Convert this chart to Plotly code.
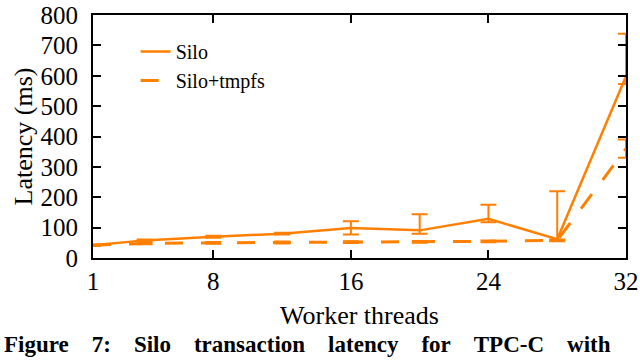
import plotly.graph_objects as go

threads = [1, 4, 8, 12, 16, 20, 24, 28, 32]

silo = [42, 58, 70, 80, 99, 91, 129, 62, 598]
silo_err_plus = [2, 3, 3, 3, 22, 53, 46, 158, 140]
silo_err_minus = [2, 3, 3, 3, 22, 11, 11, 3, 25]

tmpfs = [42, 48, 50, 51, 52, 53, 55, 58, 360]
tmpfs_err_plus = [2, 3, 3, 3, 3, 3, 3, 3, 30]
tmpfs_err_minus = [2, 3, 3, 3, 3, 3, 3, 3, 30]

x_ticks = [1, 8, 16, 24, 32]
y_ticks = [0, 100, 200, 300, 400, 500, 600, 700, 800]

orange = '#ff8000'
serif = 'Liberation Serif, Times New Roman, serif'

W, H = 640, 360
left, right, top, bottom = 93, 14, 15, 102
plot_w = W - left - right
plot_h = H - top - bottom

fig = go.Figure()
fig.add_trace(go.Scatter(
    x=threads, y=silo, name='Silo', mode='lines',
    line=dict(color=orange, width=2.5),
    error_y=dict(type='data', symmetric=False, array=silo_err_plus,
                 arrayminus=silo_err_minus, color=orange, thickness=2, width=8),
))
fig.add_trace(go.Scatter(
    x=threads, y=tmpfs, name='Silo+tmpfs', mode='lines',
    line=dict(color=orange, width=3, dash='18px,18px'),
    error_y=dict(type='data', symmetric=False, array=tmpfs_err_plus,
                 arrayminus=tmpfs_err_minus, color=orange, thickness=2, width=8),
))

axis_style = dict(
    showline=True, linecolor='black', linewidth=2, mirror='ticks',
    ticks='inside', ticklen=8, tickwidth=1.5, tickcolor='black',
    showgrid=False, zeroline=False, automargin=False,
    ticklabeloverflow='allow',
    tickfont=dict(family=serif, size=25, color='black'),
)

fig.update_layout(
    width=W, height=H,
    margin=dict(l=left, r=right, t=top, b=bottom),
    paper_bgcolor='white', plot_bgcolor='white',
    font=dict(family=serif, color='black'),
    xaxis=dict(range=[1, 32], tickvals=x_ticks,
               title=dict(text='Worker threads', font=dict(family=serif, size=26), standoff=12),
               **axis_style),
    yaxis=dict(range=[0, 800], tickvals=y_ticks, ticklabelstandoff=8,
               title=dict(text='Latency (ms)', font=dict(family=serif, size=26), standoff=0),
               **axis_style),
    legend=dict(x=0.08, y=0.93, xanchor='left', yanchor='top',
                bgcolor='rgba(0,0,0,0)', font=dict(family=serif, size=20)),
    showlegend=True,
)

gap = '\u00a0' * 4
caption = gap.join(['Figure', '7:', 'Silo', 'transaction', 'latency', 'for', 'TPC-C', 'with'])
fig.add_annotation(
    text='<b>' + caption + '</b>',
    xref='paper', yref='paper', x=-(left - 2) / plot_w, y=-(H - 1 - (H - bottom)) / plot_h,
    xanchor='left', yanchor='bottom', showarrow=False,
    font=dict(family=serif, size=23, color='black'),
)

# drop the default 8px body margin so the figure fills the window
fig.write_html("out.html", config={'displayModeBar': False},
               post_script="document.body.style.margin = '0';")
